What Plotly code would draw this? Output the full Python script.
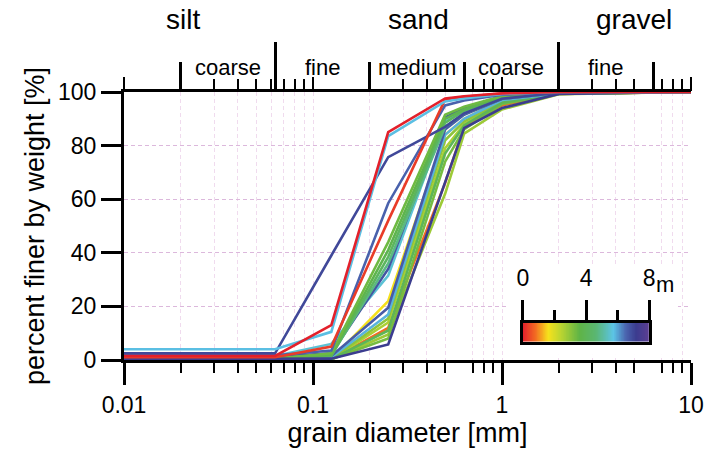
import math
import numpy as np
import plotly.graph_objects as go
from plotly.colors import sample_colorscale

# ---------------- data ----------------
sieve_mm = [0.01, 0.063, 0.125, 0.25, 0.5, 0.63, 1, 2, 10]

p00 = [1.5, 1.5, 13.0, 85.0, 97.6, 98.4, 99.5, 100, 100]
p01 = [1.0, 1.0, 5.0, 52.0, 97.2, 98.2, 99.4, 100, 100]
p02 = [4.0, 4.0, 10.5, 83.5, 96.5, 97.6, 99.3, 100, 100]
p03 = [2.5, 2.5, 39.0, 75.7, 87.0, 92.0, 97.5, 99.7, 100]
p04 = [1.8, 1.8, 3.5, 58.5, 95.0, 96.8, 99.0, 99.9, 100]
p05 = [0.5, 0.5, 2.5, 44.0, 91.5, 94.5, 98.5, 99.8, 100]
p06 = [0.5, 0.5, 2.0, 41.0, 90.0, 93.5, 98.2, 99.8, 100]
p07 = [0.3, 0.3, 1.5, 38.5, 88.5, 93.0, 98.0, 99.7, 100]
p08 = [0.3, 0.3, 1.8, 36.0, 87.0, 92.0, 97.5, 99.7, 100]
p09 = [1.2, 1.2, 2.5, 34.0, 90.5, 94.0, 98.3, 99.7, 100]
p10 = [1.5, 1.5, 6.0, 31.5, 89.0, 93.0, 98.0, 99.7, 100]
p11 = [0.0, 0.0, 0.3, 22.0, 84.0, 90.0, 97.0, 99.5, 100]
p12 = [0.8, 0.8, 1.5, 19.5, 86.0, 91.5, 97.5, 99.6, 100]
p13 = [0.5, 0.5, 1.0, 17.0, 84.0, 90.0, 97.0, 99.5, 100]
p14 = [0.0, 0.0, 0.4, 15.5, 82.0, 89.0, 96.5, 99.5, 100]
p15 = [0.0, 0.0, 0.3, 14.0, 79.0, 88.0, 96.0, 99.4, 100]
p16 = [0.0, 0.0, 0.2, 12.0, 66.0, 87.0, 95.0, 99.3, 100]
p17 = [0.0, 0.0, 0.3, 11.0, 77.0, 87.5, 96.0, 99.4, 100]
p18 = [0.0, 0.0, 0.2, 9.5, 62.0, 84.5, 93.5, 99.2, 100]
p19 = [0.0, 0.0, 0.3, 8.0, 74.0, 86.0, 95.5, 99.3, 100]
p20 = [0.3, 0.3, 0.5, 5.8, 66.0, 86.5, 94.0, 99.3, 100]

samples = [p11, p16, p18, p15, p14, p19, p17, p13, p12, p10,
           p09, p08, p07, p06, p05, p20, p04, p03, p01, p02, p00]
depth_m = [1.6, 0.8, 2.8, 2.6, 3.0, 3.3, 4.0, 5.9, 6.7, 5.6,
           6.8, 4.8, 4.2, 3.8, 3.4, 7.2, 6.6, 7.0, 0.3, 5.8, 0.0]

x_tick_vals = [0.01, 0.1, 1, 10]
x_tick_text = ["0.01", "0.1", "1", "10"]
y_tick_vals = [0, 20, 40, 60, 80, 100]

class_names = ["silt", "sand", "gravel"]
class_pos_mm = [0.0205, 0.36, 5.0]
sub_names = ["coarse", "fine", "medium", "coarse", "fine"]
sub_pos_mm = [0.0355, 0.112, 0.355, 1.12, 3.55]
class_bounds_mm = [0.063, 2]
sub_bounds_mm = [0.02, 0.2, 0.63, 6.3]

depth_ticks = [0, 4, 8]
depth_minor = [2, 6]
depth_max = 8

# ---------------- style ----------------
FONT = "Liberation Sans, Arial, sans-serif"
cscale = [
    [0.00, "#e3202b"],
    [0.10, "#f26c22"],
    [0.20, "#f6e11c"],
    [0.30, "#bcd530"],
    [0.45, "#5fb446"],
    [0.58, "#5ab672"],
    [0.72, "#5cc4e6"],
    [0.82, "#4a63ae"],
    [0.90, "#3b3c8f"],
    [1.00, "#5b3e91"],
]
grid_h = "#dcb8dc"
grid_v = "#f0dbee"

minor_vals = [m * 10 ** e for e in (-2, -1, 0) for m in range(2, 10) if m != 6 or e == -2]

fig = go.Figure()

for vals, d in zip(samples, depth_m):
    col = sample_colorscale(cscale, [d / depth_max])[0]
    fig.add_trace(go.Scatter(x=sieve_mm, y=vals, mode="lines",
                             line=dict(color=col, width=2.6),
                             showlegend=False, hoverinfo="skip"))

# dummy traces for the top overlay axes
for ax in ["x2", "x3", "x4", "x5"]:
    fig.add_trace(go.Scatter(x=[1], y=[None], xaxis=ax, yaxis="y",
                             showlegend=False, hoverinfo="skip"))

# empty white panel behind the scale bar (hides the grid there)
fig.add_trace(go.Scatter(x=[0.5], y=[None], xaxis="x6", yaxis="y6",
                         showlegend=False, hoverinfo="skip"))

# colour scale bar
cb_x = np.linspace(0, depth_max, 300)
fig.add_trace(go.Heatmap(z=[cb_x], x=cb_x, y=[0], colorscale=cscale,
                         zmin=0, zmax=depth_max, showscale=False,
                         xaxis="x7", yaxis="y7", hoverinfo="skip"))

tick_font = dict(family=FONT, size=23, color="black")

top_common = dict(type="log", range=[-2, 1], overlaying="x", side="top",
                  anchor="y", showticklabels=False, showgrid=False,
                  zeroline=False, ticks="outside", tickcolor="black")

hidden = dict(visible=False, showgrid=False, zeroline=False, range=[0, 1])

fig.update_layout(
    width=705, height=452,
    margin=dict(l=124, r=14, t=92, b=92, autoexpand=False),
    paper_bgcolor="white", plot_bgcolor="white",
    font=dict(family=FONT, color="black"),
    xaxis=dict(
        type="log", range=[-2, 1], showline=True, linewidth=3, linecolor="black",
        ticks="outside", ticklen=22, tickwidth=2.5, tickcolor="black",
        tickmode="array", tickvals=x_tick_vals, ticktext=x_tick_text,
        tickfont=tick_font, showgrid=True, gridcolor=grid_v, griddash="4px,3px",
        gridwidth=1, zeroline=False, automargin=False,
        minor=dict(tickmode="array", tickvals=minor_vals, ticks="outside",
                   ticklen=10, tickwidth=2, tickcolor="black", showgrid=True,
                   gridcolor=grid_v, griddash="4px,3px", gridwidth=1),
        title=dict(text="grain diameter [mm]", font=dict(family=FONT, size=27),
                   standoff=2),
    ),
    yaxis=dict(
        range=[0, 100], showline=True, linewidth=3, linecolor="black",
        ticks="outside", ticklen=20, tickwidth=3, tickcolor="black",
        tickmode="array", tickvals=y_tick_vals, tickfont=tick_font,
        showgrid=True, gridcolor=grid_h, griddash="4px,3px", gridwidth=1.2,
        zeroline=False, automargin=False,
        title=dict(text="percent finer by weight [%]", font=dict(family=FONT, size=27),
                   standoff=6),
    ),
    xaxis2=dict(top_common, showline=True, linewidth=3, linecolor="black",
                tickvals=minor_vals, ticklen=10, tickwidth=2),
    xaxis3=dict(top_common, tickvals=x_tick_vals, ticklen=14, tickwidth=2),
    xaxis4=dict(top_common, tickvals=sub_bounds_mm, ticklen=29, tickwidth=3),
    xaxis5=dict(top_common, tickvals=class_bounds_mm, ticklen=49, tickwidth=3),
    xaxis6=dict(hidden, domain=[0.674, 0.977], anchor="y6"),
    yaxis6=dict(hidden, domain=[0.019, 0.347], anchor="x6"),
    xaxis7=dict(domain=[0.7037, 0.926], anchor="y7", range=[0, depth_max],
                side="top", showline=True, mirror=True, linewidth=2.5,
                linecolor="black", ticks="outside", ticklen=20, tickwidth=2.5,
                tickcolor="black", tickmode="array", tickvals=depth_ticks,
                ticktext=[str(t) for t in depth_ticks], tickfont=tick_font,
                ticklabelstandoff=5, automargin=False,
                showgrid=False, zeroline=False,
                minor=dict(tickmode="array", tickvals=depth_minor, ticks="outside",
                           ticklen=10, tickwidth=2.5, tickcolor="black")),
    yaxis7=dict(domain=[0.068, 0.139], anchor="x7", range=[-0.5, 0.5],
                showline=True, mirror=True, linewidth=2.5, linecolor="black",
                showticklabels=False, ticks="", showgrid=False, zeroline=False),
)

annotations = []
for name, pos in zip(class_names, class_pos_mm):
    annotations.append(dict(text=name, x=math.log10(pos), xref="x", y=1.2687,
                            yref="paper", showarrow=False, xanchor="center",
                            yanchor="middle", font=dict(family=FONT, size=28)))
for name, pos in zip(sub_names, sub_pos_mm):
    annotations.append(dict(text=name, x=math.log10(pos), xref="x", y=1.0896,
                            yref="paper", showarrow=False, xanchor="center",
                            yanchor="middle", font=dict(family=FONT, size=22)))
annotations.append(dict(text="m", x=depth_max, xref="x7", xanchor="left", xshift=5,
                        y=0.280, yref="paper", yanchor="middle", showarrow=False,
                        font=dict(family=FONT, size=22)))
fig.update_layout(annotations=annotations)

fig.write_html("out.html")
